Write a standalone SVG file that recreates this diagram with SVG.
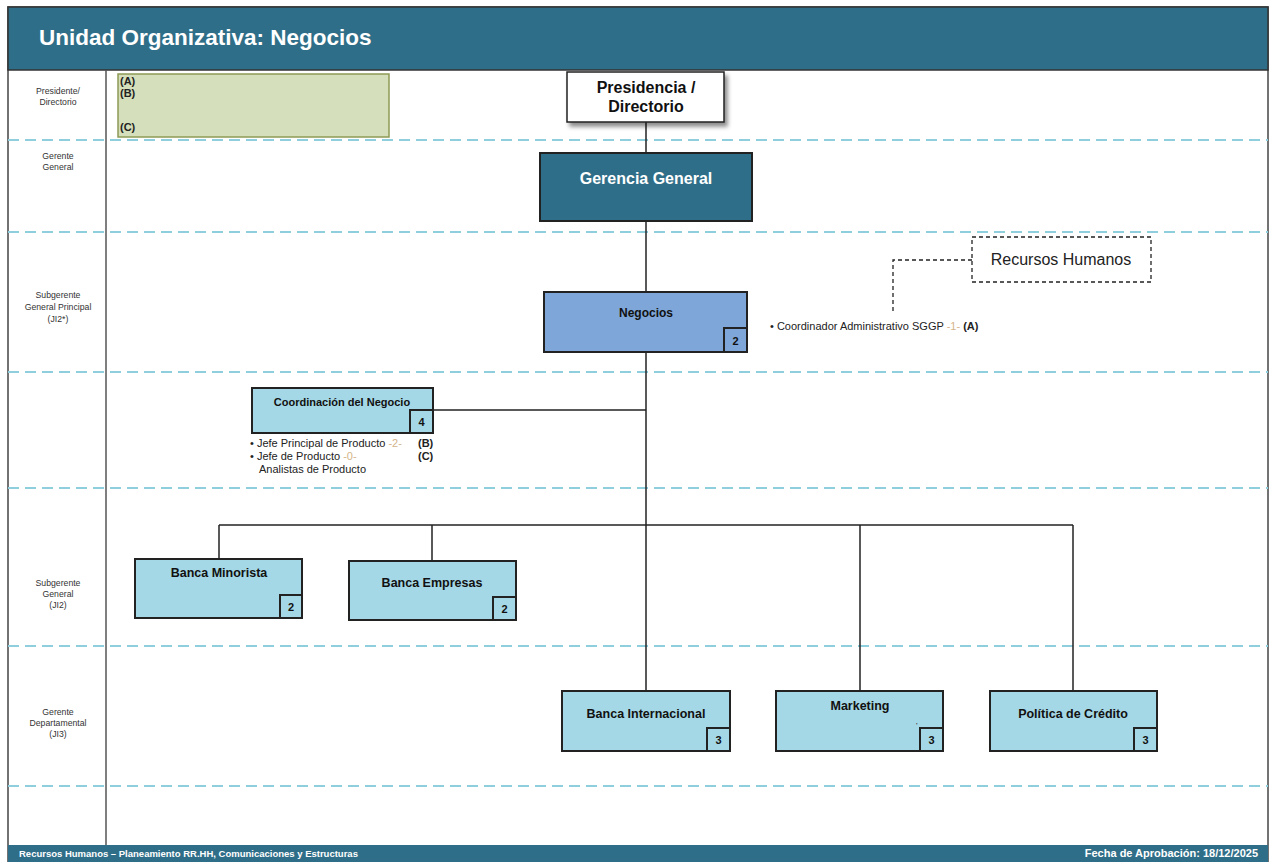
<svg xmlns="http://www.w3.org/2000/svg" width="1271" height="862" viewBox="0 0 1271 862">
<defs>
<style>
text{font-family:"Liberation Sans",Arial,sans-serif}
.lane{font-size:8.7px;fill:#333;text-anchor:middle}
.sep{stroke:#8fcfdd;stroke-width:1.8;stroke-dasharray:11 6;fill:none}
.box{stroke:#222;stroke-width:2}
.lb{fill:#a5d8e6}
.badge{fill:#a5d8e6;stroke:#222;stroke-width:2}
.num{font-size:11px;font-weight:bold;fill:#111;text-anchor:middle}
.ttl{font-weight:bold;fill:#111;text-anchor:middle}
.con{stroke:#222;stroke-width:1.5;fill:none}
.note{font-size:11px;fill:#222}
.tan{fill:#d4b489}
</style>
<filter id="sh" x="-10%" y="-10%" width="130%" height="140%">
<feDropShadow dx="3" dy="4" stdDeviation="2" flood-color="#000" flood-opacity="0.45"/>
</filter>
</defs>
<rect x="0" y="0" width="1271" height="862" fill="#fff"/>
<g id="frame">
<rect x="8" y="7" width="1260" height="855" fill="#fff" stroke="#444" stroke-width="1.5"/>
<rect x="8" y="7" width="1260" height="63" fill="#2f6e88" stroke="#333" stroke-width="1.5"/>
<text x="39" y="45" font-size="22.5" font-weight="bold" fill="#fff">Unidad Organizativa: Negocios</text>
<line x1="106" y1="70" x2="106" y2="845" stroke="#555" stroke-width="1.5"/>
<rect x="8" y="845" width="1260" height="17" fill="#2f6e88"/>
<text x="19" y="857" font-size="9.5" font-weight="bold" fill="#fff">Recursos Humanos – Planeamiento RR.HH, Comunicaciones y Estructuras</text>
<text x="1258" y="857" font-size="11" font-weight="bold" fill="#fff" text-anchor="end">Fecha de Aprobación: 18/12/2025</text>
</g>
<g id="lanes">
<line class="sep" x1="8" y1="140" x2="1268" y2="140"/>
<line class="sep" x1="8" y1="232" x2="1268" y2="232"/>
<line class="sep" x1="8" y1="372" x2="1268" y2="372"/>
<line class="sep" x1="8" y1="488" x2="1268" y2="488"/>
<line class="sep" x1="8" y1="646" x2="1268" y2="646"/>
<line class="sep" x1="8" y1="786" x2="1268" y2="786"/>
<text class="lane" x="58" y="94">Presidente/</text>
<text class="lane" x="58" y="105">Directorio</text>
<text class="lane" x="58" y="159">Gerente</text>
<text class="lane" x="58" y="170">General</text>
<text class="lane" x="58" y="298">Subgerente</text>
<text class="lane" x="58" y="310">General Principal</text>
<text class="lane" x="58" y="322">(JI2*)</text>
<text class="lane" x="58" y="586">Subgerente</text>
<text class="lane" x="58" y="597">General</text>
<text class="lane" x="58" y="608">(JI2)</text>
<text class="lane" x="58" y="715">Gerente</text>
<text class="lane" x="58" y="726">Departamental</text>
<text class="lane" x="58" y="737">(JI3)</text>
</g>
<g id="legend">
<rect x="118" y="74" width="271" height="63" fill="#d5dfbb" stroke="#8d9b55" stroke-width="1.5"/>
<text x="120" y="85" font-size="11" font-weight="bold" fill="#222">(A)</text>
<text x="120" y="97" font-size="11" font-weight="bold" fill="#222">(B)</text>
<text x="120" y="131" font-size="11" font-weight="bold" fill="#222">(C)</text>
</g>
<g id="connectors">
<line class="con" x1="646" y1="122" x2="646" y2="153"/>
<line class="con" x1="646" y1="221" x2="646" y2="292"/>
<line class="con" x1="646" y1="352" x2="646" y2="691"/>
<line class="con" x1="433" y1="410" x2="646" y2="410"/>
<line class="con" x1="219" y1="525" x2="1073" y2="525"/>
<line class="con" x1="219" y1="525" x2="219" y2="559"/>
<line class="con" x1="432" y1="525" x2="432" y2="561"/>
<line class="con" x1="860" y1="525" x2="860" y2="691"/>
<line class="con" x1="1073" y1="525" x2="1073" y2="691"/>
<polyline points="972,260 893,260 893,312" fill="none" stroke="#222" stroke-width="1.3" stroke-dasharray="4 3"/>
</g>
<g id="presidencia">
<rect x="567" y="72" width="157" height="50" fill="#fff" stroke="#222" stroke-width="1.5" filter="url(#sh)"/>
<text class="ttl" x="646" y="93" font-size="16">Presidencia /</text>
<text class="ttl" x="646" y="111.5" font-size="16">Directorio</text>
</g>
<g id="gerencia-general">
<rect class="box" x="540" y="153" width="212" height="68" fill="#2f6e88"/>
<text x="646" y="184" font-size="16" font-weight="bold" fill="#fff" text-anchor="middle">Gerencia General</text>
</g>
<g id="recursos-humanos">
<rect x="972" y="237" width="179" height="45" fill="#fff" stroke="#222" stroke-width="1.3" stroke-dasharray="4 3"/>
<text x="1061" y="265" font-size="16" fill="#222" text-anchor="middle">Recursos Humanos</text>
</g>
<g id="negocios">
<rect class="box" x="544" y="292" width="203" height="60" fill="#7ea6d8"/>
<text class="ttl" x="646" y="317" font-size="12">Negocios</text>
<rect x="724" y="328" width="23" height="24" fill="#7ea6d8" stroke="#222" stroke-width="2"/>
<text class="num" x="735.5" y="345">2</text>
<text class="note" x="770" y="330">• Coordinador Administrativo SGGP <tspan class="tan">-1-</tspan> <tspan font-weight="bold">(A)</tspan></text>
</g>
<g id="coordinacion">
<rect class="box lb" x="252" y="388" width="181" height="45"/>
<text class="ttl" x="342" y="406" font-size="11">Coordinación del Negocio</text>
<rect class="badge" x="410" y="410" width="23" height="23"/>
<text class="num" x="421.5" y="426">4</text>
<text class="note" x="250" y="447">• Jefe Principal de Producto <tspan class="tan">-2-</tspan></text>
<text class="note" x="418" y="447" font-weight="bold">(B)</text>
<text class="note" x="250" y="460">• Jefe de Producto <tspan class="tan">-0-</tspan></text>
<text class="note" x="418" y="460" font-weight="bold">(C)</text>
<text class="note" x="259" y="473">Analistas de Producto</text>
</g>
<g id="banca-minorista">
<rect class="box lb" x="135" y="559" width="167" height="59"/>
<text class="ttl" x="219" y="577" font-size="12.5">Banca Minorista</text>
<rect class="badge" x="280" y="595" width="22" height="23"/>
<text class="num" x="291" y="611">2</text>
</g>
<g id="banca-empresas">
<rect class="box lb" x="349" y="561" width="167" height="59"/>
<text class="ttl" x="432" y="587" font-size="12.5">Banca Empresas</text>
<rect class="badge" x="493" y="597" width="23" height="23"/>
<text class="num" x="504.5" y="613">2</text>
</g>
<g id="banca-internacional">
<rect class="box lb" x="562" y="691" width="168" height="60"/>
<text class="ttl" x="646" y="718" font-size="12.5">Banca Internacional</text>
<rect class="badge" x="707" y="728" width="23" height="23"/>
<text class="num" x="718.5" y="744">3</text>
</g>
<g id="marketing">
<rect class="box lb" x="776" y="691" width="167" height="60"/>
<text class="ttl" x="860" y="710" font-size="12.5">Marketing</text>
<text x="916" y="728" font-size="8" fill="#222">'</text>
<rect class="badge" x="920" y="728" width="23" height="23"/>
<text class="num" x="931.5" y="744">3</text>
</g>
<g id="politica-credito">
<rect class="box lb" x="990" y="691" width="167" height="60"/>
<text class="ttl" x="1073" y="718" font-size="12.5">Política de Crédito</text>
<rect class="badge" x="1134" y="728" width="23" height="23"/>
<text class="num" x="1145.5" y="744">3</text>
</g>
</svg>
